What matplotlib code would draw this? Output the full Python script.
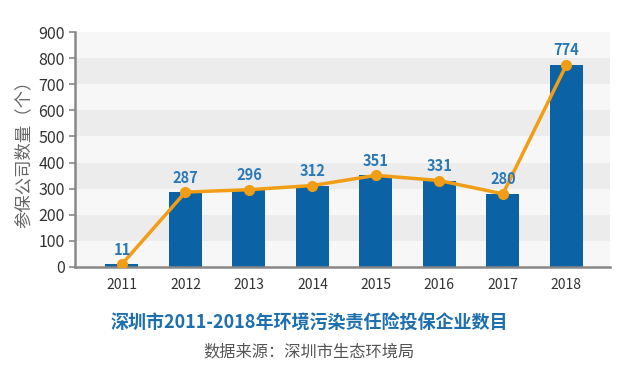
import matplotlib.pyplot as plt

plt.rcParams['font.family'] = ['Noto Sans CJK SC', 'DejaVu Sans']

years = ['2011', '2012', '2013', '2014', '2015', '2016', '2017', '2018']
counts = [11, 287, 296, 312, 351, 331, 280, 774]
yticks = [0, 100, 200, 300, 400, 500, 600, 700, 800, 900]

bar_color = '#0b63a6'
line_color = '#f19d15'
label_color = '#2a78b6'

fig = plt.figure(figsize=(6.22, 3.67), dpi=100)
ax = fig.add_axes([0.1206, 0.2725, 0.8604, 0.6403])

# alternating background bands
for i in range(len(yticks) - 1):
    c = '#f7f7f7' if i % 2 == 0 else '#ececec'
    ax.axhspan(yticks[i], yticks[i + 1], color=c, lw=0, zorder=0)

x = range(len(years))
ax.bar(x, counts, width=0.52, color=bar_color, zorder=2)
ax.plot(x, counts, color=line_color, lw=2.5, marker='o', markersize=7, zorder=3)

for xi, v in zip(x, counts):
    ax.text(xi, v + 25, str(v), ha='center', va='bottom', color=label_color,
            fontsize=10.5, fontweight='bold', zorder=4)

ax.set_xlim(-0.74, 7.69)
ax.set_ylim(0, 900)
ax.set_yticks(yticks)
ax.set_xticks(list(x))
ax.set_xticklabels(years)
ax.tick_params(axis='x', length=0, pad=8, labelsize=10, colors='#333333')
ax.tick_params(axis='y', length=4, width=1.2, labelsize=11.5)
ax.tick_params(axis='y', colors='#888888', labelcolor='#333333')

for s in ['top', 'right']:
    ax.spines[s].set_visible(False)
for s in ['left', 'bottom']:
    ax.spines[s].set_color('#888888')
    ax.spines[s].set_linewidth(1.8)

ax.set_ylabel('参保公司数量（个）', fontsize=12.5, color='#666666', labelpad=4)

fig.text(0.498, 0.12, '深圳市2011-2018年环境污染责任险投保企业数目', ha='center', va='center',
         fontsize=13, fontweight='bold', color='#1d6fae')
fig.text(0.497, 0.041, '数据来源：深圳市生态环境局', ha='center', va='center',
         fontsize=11.7, color='#555555')

fig.savefig('out.png', dpi=100)
